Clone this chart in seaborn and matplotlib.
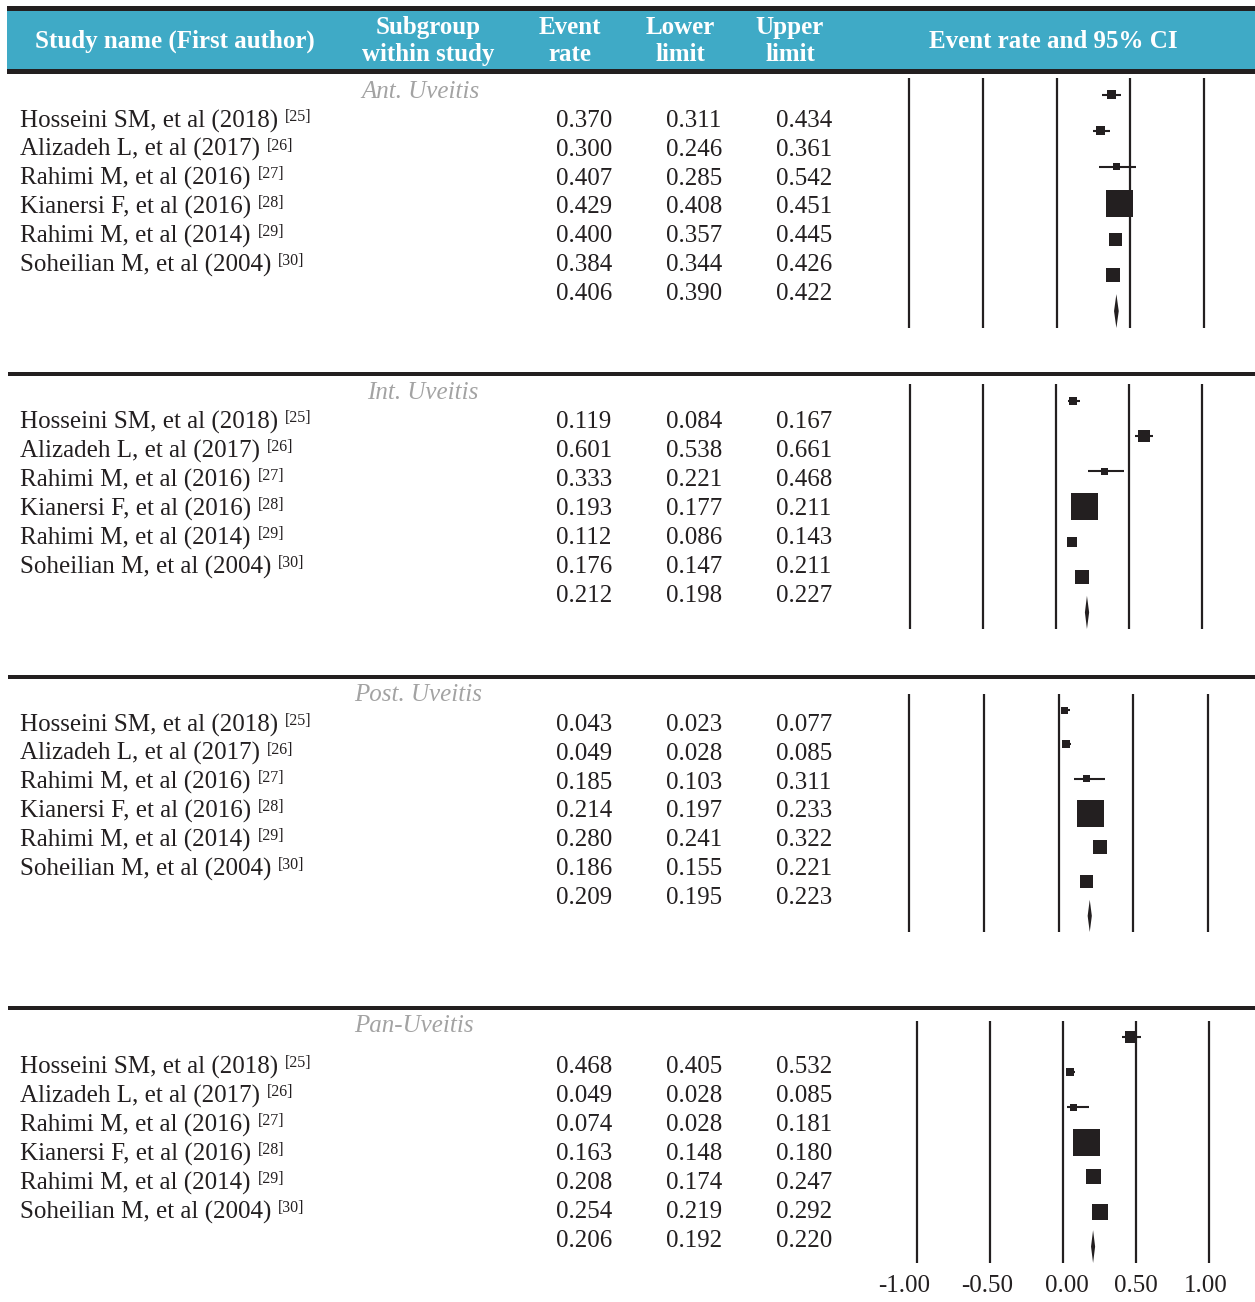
import numpy as np
import pandas as pd
import matplotlib
matplotlib.use("Agg")
import matplotlib.pyplot as plt
import matplotlib.transforms as mtransforms
import seaborn as sns
from matplotlib.patches import Rectangle, Polygon

# ---------------- data ----------------
studies = ["Hosseini SM, et al (2018)", "Alizadeh L, et al (2017)", "Rahimi M, et al (2016)",
           "Kianersi F, et al (2016)", "Rahimi M, et al (2014)", "Soheilian M, et al (2004)"]
refs = ["[25]", "[26]", "[27]", "[28]", "[29]", "[30]"]
subgroups = ["Ant. Uveitis", "Int. Uveitis", "Post. Uveitis", "Pan-Uveitis"]

ant_rate = [0.370, 0.300, 0.407, 0.429, 0.400, 0.384]
ant_lower = [0.311, 0.246, 0.285, 0.408, 0.357, 0.344]
ant_upper = [0.434, 0.361, 0.542, 0.451, 0.445, 0.426]
ant_pooled = [0.406, 0.390, 0.422]
ant_weight = [9, 9, 7, 27, 13, 14]

int_rate = [0.119, 0.601, 0.333, 0.193, 0.112, 0.176]
int_lower = [0.084, 0.538, 0.221, 0.177, 0.086, 0.147]
int_upper = [0.167, 0.661, 0.468, 0.211, 0.143, 0.211]
int_pooled = [0.212, 0.198, 0.227]
int_weight = [8, 12, 7, 27, 10, 14]

post_rate = [0.043, 0.049, 0.185, 0.214, 0.280, 0.186]
post_lower = [0.023, 0.028, 0.103, 0.197, 0.241, 0.155]
post_upper = [0.077, 0.085, 0.311, 0.233, 0.322, 0.221]
post_pooled = [0.209, 0.195, 0.223]
post_weight = [7, 8, 7, 27, 14, 13]

pan_rate = [0.468, 0.049, 0.074, 0.163, 0.208, 0.254]
pan_lower = [0.405, 0.028, 0.028, 0.148, 0.174, 0.219]
pan_upper = [0.532, 0.085, 0.181, 0.180, 0.247, 0.292]
pan_pooled = [0.206, 0.192, 0.220]
pan_weight = [12, 8, 7, 27, 15, 16]

tick_values = [-1.0, -0.5, 0.0, 0.5, 1.0]
tick_labels = ["-1.00", "-0.50", "0.00", "0.50", "1.00"]

headers = ["Study name (First author)", "Subgroup\nwithin study", "Event\nrate",
           "Lower\nlimit", "Upper\nlimit", "Event rate and 95% CI"]

panels = [
    (ant_rate, ant_lower, ant_upper, ant_pooled, ant_weight),
    (int_rate, int_lower, int_upper, int_pooled, int_weight),
    (post_rate, post_lower, post_upper, post_pooled, post_weight),
    (pan_rate, pan_lower, pan_upper, pan_pooled, pan_weight),
]

# ---------------- style / layout ----------------
sns.set_style("white")
plt.rcParams["font.family"] = ["Liberation Serif", "DejaVu Serif"]
plt.rcParams["axes.unicode_minus"] = False

W, H = 1255, 1302
DARK = "#231F20"
TEAL = "#3FAAC6"
GRAY = "#A3A3A3"
FS = 18

fig = plt.figure(figsize=(W / 100, H / 100), dpi=100)
bg = fig.add_axes([0, 0, 1, 1])
bg.set_xlim(0, W)
bg.set_ylim(H, 0)
bg.axis("off")

# header band
bg.add_patch(Rectangle((7, 6), W - 7, 5, color=DARK, lw=0))
bg.add_patch(Rectangle((7, 11), W - 7, 58, color=TEAL, lw=0))
bg.add_patch(Rectangle((7, 69), W - 7, 5, color=DARK, lw=0))
header_x = [175, 428, 570, 680, 790, 1053]
for hx, htxt in zip(header_x, headers):
    bg.text(hx, 41, htxt, ha="center", va="center", color="white", fontsize=FS,
            fontweight="bold", linespacing=1.22)

# separators
for sy in [374, 677, 1008]:
    bg.add_patch(Rectangle((8, sy - 2), W - 8, 4, color=DARK, lw=0))

# text layout per panel: (label y, first row y, row step)
text_rows = [(92, 121, 28.83), (393, 422, 29.0), (695, 725, 28.83), (1026, 1067, 29.0)]
label_x = [420, 423, 418, 414]
col_x = [584, 694, 804]

# plot layout per panel: (x of -1, x of +1, top y, bottom y)
plot_box = [(909, 1204, 78, 328), (910, 1202, 384, 629), (909, 1208, 694, 932), (917, 1209, 1021, 1263)]
tick_label_shift = [-13, -3, 4, 0, -3]

for p, (rate, lower, upper, pooled, weight) in enumerate(panels):
    ly, y0, step = text_rows[p]
    bg.text(label_x[p], ly, subgroups[p], ha="center", va="center", color=GRAY,
            fontsize=FS, fontstyle="italic")
    for i, name in enumerate(studies):
        y = y0 + i * step
        t = bg.text(20, y, name, ha="left", va="center", color=DARK, fontsize=FS)
        bg.annotate(refs[i], xy=(1, 1), xycoords=t, xytext=(5, 0.5),
                    textcoords="offset points", ha="left", va="top", fontsize=11.5, color=DARK)
        for cx, val in zip(col_x, (rate[i], lower[i], upper[i])):
            bg.text(cx, y, f"{val:.3f}", ha="center", va="center", color=DARK, fontsize=FS)
    yp = y0 + 6 * step
    for cx, val in zip(col_x, pooled):
        bg.text(cx, yp, f"{val:.3f}", ha="center", va="center", color=DARK, fontsize=FS)

    # forest plot axes
    xm1, xp1, top, bot = plot_box[p]
    unit = (xp1 - xm1) / 2.0
    lo, hi = -1.1, 1.1
    left_px = xm1 - 0.1 * unit
    width_px = 2.2 * unit
    ax = fig.add_axes([left_px / W, 1 - bot / H, width_px / W, (bot - top) / H])
    ax.set_xlim(lo, hi)
    ax.set_ylim(6.47, -0.47)
    for s in ax.spines.values():
        s.set_visible(False)
    ax.set_facecolor("none")
    for v in tick_values:
        ax.axvline(v, color=DARK, lw=1.6, zorder=1)

    df = pd.DataFrame({
        "rate": rate, "lower": lower, "upper": upper,
        "row": np.arange(len(rate)),
        "area": (np.array(weight, dtype=float) * 0.72) ** 2,
    })
    ax.hlines(df["row"], df["lower"], df["upper"], color=DARK, lw=1.5, zorder=2)
    amin, amax = 0.0, (30 * 0.72) ** 2
    sns.scatterplot(data=df, x="rate", y="row", size="area", sizes=(amin, amax),
                    size_norm=(amin, amax), marker="s", color=DARK, linewidth=0,
                    legend=False, ax=ax, zorder=3)
    pr, pl, pu = pooled
    ax.add_patch(Polygon([(pl, 6), (pr, 5.53), (pu, 6), (pr, 6.47)], closed=True,
                         color=DARK, lw=0, zorder=3))
    ax.set_xlabel("")
    ax.set_ylabel("")
    ax.set_yticks([])
    if p == 3:
        ax.set_xticks(tick_values)
        ax.set_xticklabels(tick_labels, fontsize=FS, color=DARK)
        ax.tick_params(axis="x", length=0, pad=9)
        for lab, dx in zip(ax.get_xticklabels(), tick_label_shift):
            lab.set_transform(lab.get_transform() +
                              mtransforms.ScaledTranslation(dx / 100, 0, fig.dpi_scale_trans))
    else:
        ax.set_xticks([])

fig.savefig("out.png", dpi=100)
